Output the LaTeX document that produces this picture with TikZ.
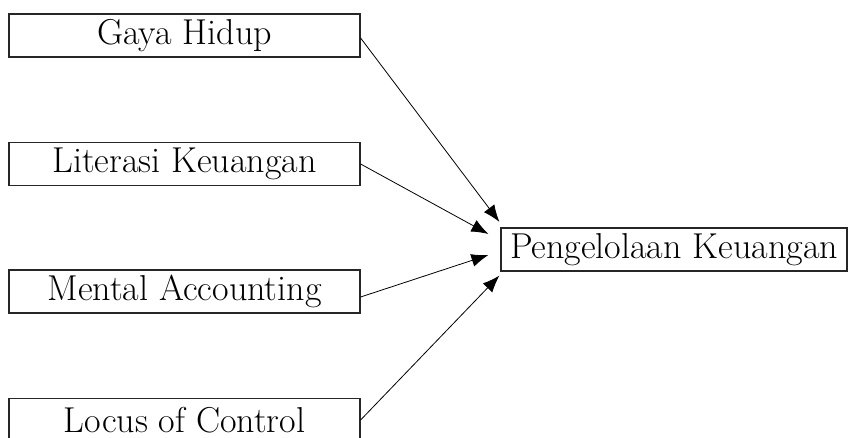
\documentclass[tikz,border=0pt]{standalone}
\usetikzlibrary{arrows.meta, calc}
\tikzset{varbox/.style={draw=black!85, line width=1.2pt, minimum width=351pt, minimum height=43pt, inner sep=0pt, font=\fontsize{36}{40}\selectfont},
    outbox/.style={varbox, minimum width=346pt},
    pathto/.style={line width=0.8pt, -{Latex[length=17pt,width=13pt]}}}

\begin{document}
\begin{tikzpicture}[x=1pt, y=1pt]
                 \useasboundingbox (0,0) rectangle (848,-438);

                 % independent variables
                 \node[varbox] (gh) at (184.5,-35.5) {Gaya Hidup};
                 \node[varbox] (lk) at (184.5,-164) {Literasi Keuangan};
                 \node[varbox] (ma) at (184.5,-291.5) {Mental Accounting};
                 \node[varbox] (lc) at (184.5,-420) {Locus of Control};

                 % dependent variable
                 \node[outbox] (pk) at (674,-249.5) {Pengelolaan Keuangan};

                 \coordinate (tgh) at ($(pk.north west)+(-1,5.5)$);
                 \coordinate (tlk) at ($(pk.west)+(-12,15.5)$);
                 \coordinate (tma) at ($(pk.west)+(-12,-5.5)$);
                 \coordinate (tlc) at ($(pk.south west)+(-1,-4)$);

                 \draw[pathto] ($(gh.east)+(0,-2.5)$) -- (tgh);
                 \draw[pathto] (lk.east) -- (tlk);
                 \draw[pathto] ($(ma.east)+(0,-5.5)$) -- (tma);
                 \draw[pathto] (lc.east) -- (tlc);
\end{tikzpicture}
\end{document}
